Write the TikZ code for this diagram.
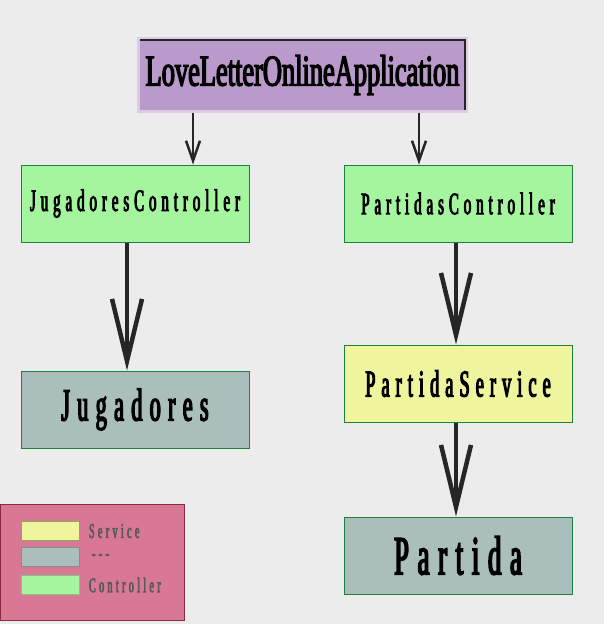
\documentclass[tikz,border=0pt]{standalone}
\usepackage{fontspec}
\usepackage{tikz}
\usetikzlibrary{arrows.meta}
\newfontfamily\boxfont{Liberation Serif}[FakeBold=3,FakeStretch=0.48,LetterSpace=16]
\newfontfamily\appfont{Liberation Serif}[FakeBold=3,FakeStretch=0.6]
\definecolor{fondo}{HTML}{ECECEC}
\definecolor{lila}{HTML}{B99ACB}
\definecolor{lilaborde}{HTML}{DCCBE6}
\definecolor{verde}{HTML}{A5F59F}
\definecolor{gris}{HTML}{AABFBB}
\definecolor{amarillo}{HTML}{EEF59C}
\definecolor{borde}{HTML}{1F7F3F}
\definecolor{rosa}{HTML}{D97894}
\definecolor{rosaborde}{HTML}{8C2A44}
\definecolor{flecha}{HTML}{262626}
\definecolor{leyenda}{HTML}{5A5A5A}

\begin{document}
\begin{tikzpicture}[x=1pt,y=-1pt,
	caja/.style={draw=borde,line width=1pt,minimum width=228pt,minimum height=77pt,inner sep=0pt},
	controlador/.style={caja,fill=verde,font=\boxfont\fontsize{31}{31}\selectfont},
	servicio/.style={caja,fill=amarillo,font=\boxfont\fontsize{38}{38}\selectfont},
	entidad/.style={caja,fill=gris},
	muestra/.style={minimum width=58pt,minimum height=19pt,inner sep=0pt,line width=1pt},
	etiqueta/.style={anchor=west,text=leyenda,font=\boxfont\fontsize{21}{21}\selectfont},
	flechita/.style={draw=flecha,line width=2.5pt,-{Straight Barb[length=20pt,width=14pt]}},
	flechota/.style={draw=flecha,line width=4.5pt,-{Straight Barb[length=62pt,width=30pt]}}]

	\fill[fondo] (0,0) rectangle (604,624);
	\useasboundingbox (0,0) rectangle (604,624);

	\node[fill=lila,draw=lilaborde,line width=3pt,minimum width=328pt,minimum height=73pt,inner sep=0pt,
		font=\appfont\fontsize{44}{44}\selectfont] (app) at (302.5,75) {LoveLetterOnlineApplication};
	\draw[black!85,line width=1.5pt] ([xshift=3pt,yshift=-3pt]app.north west) -- ([xshift=-3pt,yshift=-3pt]app.north east) -- ([xshift=-3pt,yshift=3pt]app.south east);

	\node[controlador] (jugCtrl) at (135,203.5) {JugadoresController};
	\node[controlador] (partCtrl) at (458,203.5) {PartidasController};
	\node[entidad,font=\boxfont\fontsize{46}{46}\selectfont] (jugadores) at (135,409.5) {Jugadores};
	\node[servicio] (partServ) at (458,383.5) {PartidaService};
	\node[entidad,font=\boxfont\fontsize{55}{55}\selectfont] (partida) at (458,555.5) {Partida};

	\draw[flechita] ([xshift=-109.5pt]app.south) -- ([xshift=58pt]jugCtrl.north);
	\draw[flechita] ([xshift=116.5pt]app.south) -- ([xshift=-39pt]partCtrl.north);
	\draw[flechota] ([xshift=-8pt]jugCtrl.south) -- ([xshift=-8pt]jugadores.north);
	\draw[flechota] ([xshift=-2pt]partCtrl.south) -- ([xshift=-2pt]partServ.north);
	\draw[flechota] ([xshift=-2pt]partServ.south) -- ([xshift=-2pt]partida.north);

	% leyenda
	\draw[fill=rosa,draw=rosaborde,line width=1pt] (0,504) rectangle (184,620);
	\node[muestra,fill=amarillo,draw=amarillo!80!green!70!black] (mServ) at (50,531) {};
	\node[muestra,fill=gris,draw=gris!75!black] (mEnt) at (50,557) {};
	\node[muestra,fill=verde,draw=verde!80!black] (mCtrl) at (50,585) {};
	\node[etiqueta] at ([xshift=6pt]mServ.east) {Service};
	\node[etiqueta] at ([xshift=9pt]mEnt.east) {---};
	\node[etiqueta] at ([xshift=6pt]mCtrl.east) {Controller};
\end{tikzpicture}
\end{document}
